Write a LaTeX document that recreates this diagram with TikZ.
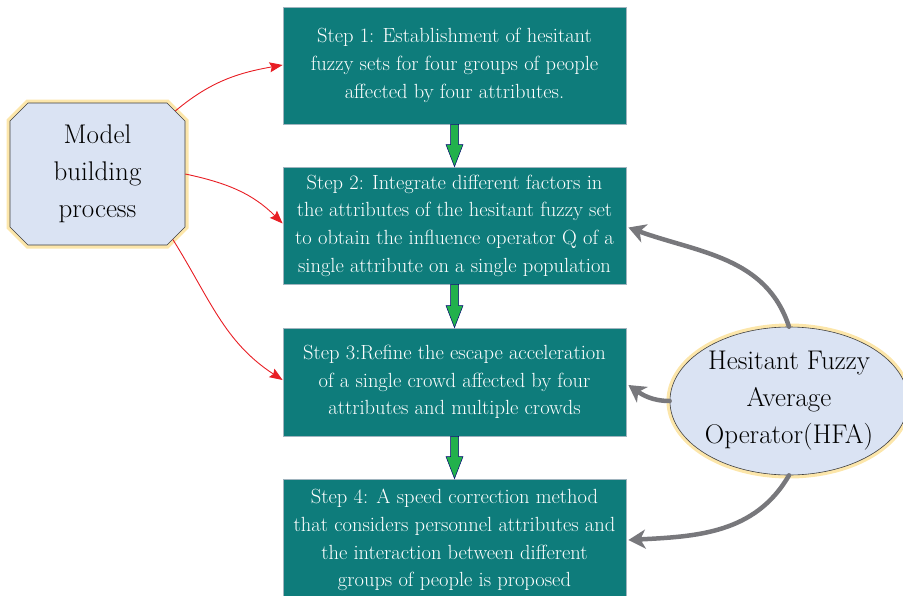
\documentclass[tikz,border=0pt]{standalone}
\usetikzlibrary{arrows.meta,shapes.geometric,shapes.misc,calc}
\definecolor{stepteal}{RGB}{14,124,123}
\definecolor{stepedge}{RGB}{160,180,190}
\definecolor{softblue}{RGB}{218,227,243}
\definecolor{glowyellow}{RGB}{252,230,170}
\definecolor{flowgreen}{RGB}{34,177,76}
\definecolor{linkgray}{RGB}{120,120,124}
\definecolor{linkred}{RGB}{232,30,36}
\tikzset{
  stepbox/.style={rectangle, draw=stepedge, line width=0.8pt, fill=stepteal,
    text=white, minimum width=343pt, inner sep=0pt, align=center,
    font=\fontsize{20.5}{27.7}\selectfont},
  roundnote/.style={draw=black!75, line width=0.6pt, fill=softblue,
    preaction={draw=glowyellow, line width=7pt}, align=center,
    font=\fontsize{27}{37}\selectfont, inner sep=0pt},
  redlink/.style={draw=linkred, line width=0.9pt, -{Stealth[length=13pt,width=10pt,inset=2pt]}},
  graylink/.style={draw=linkgray, line width=4.5pt, line cap=round,
    -{Stealth[length=17pt,width=19pt,inset=5pt]}},
  greenflow/.style={fill=flowgreen, draw=blue!45!black, line width=0.5pt, line join=miter}
}
\begin{document}
\begin{tikzpicture}[x=1pt,y=1pt]
\useasboundingbox (0,0) rectangle (903,-595);
\begin{scope}
\clip (0,0) rectangle (903,-595);

% process steps
\node[stepbox, minimum height=117pt] (s1) at (454.5,-65.5)
  {Step 1: Establishment of hesitant\\fuzzy sets for four groups of people\\affected by four attributes.};
\node[stepbox, minimum height=117pt] (s2) at (454.5,-225.5)
  {Step 2: Integrate different factors in\\the attributes of the hesitant fuzzy set\\to obtain the influence operator Q of a\\single attribute on a single population};
\node[stepbox, minimum height=108pt] (s3) at (454.5,-382)
  {Step 3:Refine the escape acceleration\\of a single crowd affected by four\\attributes and multiple crowds};
\node[stepbox, minimum height=122pt] (s4) at (454.5,-540)
  {Step 4: A speed correction method\\that considers personnel attributes and\\the interaction between different\\groups of people is proposed};

% side nodes
\node[roundnote, chamfered rectangle, chamfered rectangle xsep=9pt,
  chamfered rectangle ysep=9pt, chamfered rectangle angle=45,
  minimum width=175pt, minimum height=142pt] (model) at (97.5,-174)
  {Model\\building\\process};
\node[roundnote, ellipse, minimum width=224pt, minimum height=148pt] (hfa) at (789,-401)
  {Hesitant Fuzzy\\Average\\Operator(HFA)};

% green flow arrows between the steps
\foreach \a/\b in {s1/s2,s2/s3,s3/s4}
  \draw[greenflow] ($(\a.south)+(-4,0)$) -- ($(\b.north)+(-4,22)$)
    -- ($(\b.north)+(-8.5,22)$) -- (\b.north) -- ($(\b.north)+(8.5,22)$)
    -- ($(\b.north)+(4,22)$) -- ($(\a.south)+(4,0)$) -- cycle;

% links from the model building process
\draw[redlink] (model.39) to[out=40, in=190] ($(s1.west)+(0,0.5)$);
\draw[redlink] (model.east) to[out=-12, in=135] ($(s2.west)+(0,2)$);
\draw[redlink] (model.-41) to[out=-58, in=147] ($(s3.west)+(0,2)$);

% links from the HFA operator
\draw[graylink] (hfa.north) to[out=108, in=-20] ($(s2.east)+(2,-2)$);
\draw[graylink] (hfa.west) to[out=180, in=-35] ($(s3.east)+(2,-3)$);
\draw[graylink] (hfa.south) to[out=-120, in=3] ($(s4.east)+(2,0)$);
\end{scope}
\end{tikzpicture}
\end{document}
